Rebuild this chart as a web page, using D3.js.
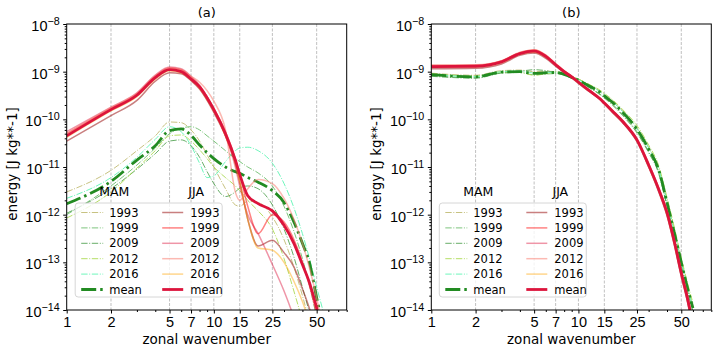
<!DOCTYPE html>
<html>
<head>
<meta charset="utf-8">
<script src="https://cdn.jsdelivr.net/npm/d3@7"></script>
<style>
  body { margin: 0; background: #fff; }
  svg { font-family: "DejaVu Sans", sans-serif; }
  .tick text { font-size: 14.5px; fill: #000; }
  .tick line { stroke: #000; }
  .domain { display: none; }
</style>
</head>
<body>
<div id="chart"></div>
<script>
// wavenumber grid shared by all curves
var wavenumber = [1, 2, 3, 4, 5, 6, 7, 8, 9, 10, 12, 14, 15, 17, 20, 25, 30, 35, 40, 45, 50, 55, 60];
var years = ["1993", "1999", "2009", "2012", "2016"];
var xTicks = [1, 2, 5, 7, 10, 15, 25, 50];
var xMinor = [3, 4, 6, 8, 9, 20, 30, 40, 60, 70, 80];
var yTicks = [-14, -13, -12, -11, -10, -9, -8];

// panel (a)
var aMam1993 = [3.0e-12, 8.5e-12, 2.2e-11, 4.5e-11, 8.8e-11, 8.5e-11, 6.0e-11, 3.5e-11, 1.8e-11, 1.0e-11, 3.5e-12, 1.6e-12, 1.5e-12, 1.9e-12, 1.8e-12, 9.0e-13, 3.0e-13, 8.0e-14, 2.0e-14, 5.0e-15, 1.0e-15, 3.0e-16, 1.0e-16];
var aMam1999 = [1.0e-12, 4.0e-12, 1.1e-11, 2.5e-11, 5.0e-11, 6.5e-11, 7.0e-11, 6.0e-11, 4.5e-11, 3.5e-11, 2.2e-11, 1.5e-11, 1.3e-11, 1.0e-11, 7.5e-12, 4.0e-12, 1.5e-12, 4.5e-13, 1.2e-13, 3.0e-14, 7.0e-15, 2.0e-15, 5.0e-16];
var aMam2009 = [1.07e-12, 3.5e-12, 9.0e-12, 1.9e-11, 3.5e-11, 3.7e-11, 2.8e-11, 1.6e-11, 8.0e-12, 4.5e-12, 2.4e-12, 3.0e-12, 3.6e-12, 4.0e-12, 3.5e-12, 1.6e-12, 5.0e-13, 1.3e-13, 3.0e-14, 8.0e-15, 2.0e-15, 5.0e-16, 1.0e-16];
var aMam2012 = [8.5e-13, 3.0e-12, 9.5e-12, 2.2e-11, 4.5e-11, 4.7e-11, 3.5e-11, 2.3e-11, 1.5e-11, 1.0e-11, 6.0e-12, 4.0e-12, 3.2e-12, 2.0e-12, 1.2e-12, 5.0e-13, 1.2e-13, 2.5e-14, 6.0e-15, 1.5e-15, 4.0e-16, 1.0e-16, 3.0e-17];
var aMam2016 = [2.2e-12, 6.0e-12, 1.6e-11, 3.8e-11, 7.0e-11, 5.5e-11, 2.8e-11, 1.2e-11, 6.0e-12, 6.5e-12, 1.3e-11, 2.2e-11, 2.5e-11, 2.6e-11, 2.2e-11, 1.2e-11, 4.5e-12, 1.4e-12, 4.0e-13, 1.1e-13, 3.0e-14, 1.0e-14, 3.0e-15];
var aMamMean = [1.7e-12, 5.0e-12, 1.4e-11, 2.8e-11, 5.8e-11, 6.3e-11, 4.6e-11, 2.9e-11, 2.0e-11, 1.5e-11, 1.0e-11, 8.0e-12, 7.4e-12, 6.0e-12, 4.8e-12, 3.2e-12, 1.8e-12, 7.0e-13, 2.5e-13, 9.0e-14, 1.8e-14, 5.0e-15, 1.5e-15];

var aJja1993 = [3.5e-11, 1.2e-10, 2.5e-10, 6.3e-10, 9.5e-10, 9.0e-10, 6.5e-10, 4.3e-10, 2.5e-10, 1.4e-10, 4.5e-11, 1.2e-11, 5.0e-12, 8.0e-13, 2.2e-13, 2.9e-13, 1.6e-13, 8.0e-14, 2.8e-14, 1.0e-14, 3.0e-15, 1.0e-15, 3.0e-16];
var aJja1999 = [5.0e-11, 1.7e-10, 3.4e-10, 8.0e-10, 1.2e-9, 1.1e-9, 7.5e-10, 5.0e-10, 3.0e-10, 1.7e-10, 5.5e-11, 1.5e-11, 7.0e-12, 1.5e-12, 4.0e-13, 1.0e-12, 7.0e-13, 3.0e-13, 1.0e-13, 3.0e-14, 8.0e-15, 2.0e-15, 5.0e-16];
var aJja2009 = [5.5e-11, 1.8e-10, 3.6e-10, 8.5e-10, 1.25e-9, 1.15e-9, 8.0e-10, 5.2e-10, 3.0e-10, 1.6e-10, 4.5e-11, 1.0e-11, 4.0e-12, 1.0e-12, 4.0e-13, 9.0e-14, 2.5e-14, 7.0e-15, 2.0e-15, 5.0e-16, 1.0e-16, 3.0e-17, 1.0e-17];
var aJja2012 = [5.0e-11, 1.75e-10, 3.5e-10, 8.2e-10, 1.2e-9, 1.1e-9, 8.0e-10, 6.0e-10, 4.0e-10, 2.4e-10, 6.0e-11, 3.0e-12, 2.0e-12, 3.5e-12, 5.5e-12, 4.5e-12, 2.2e-12, 8.0e-13, 2.5e-13, 7.0e-14, 1.8e-14, 4.0e-15, 1.0e-15];
var aJja2016 = [4.2e-11, 1.5e-10, 3.0e-10, 7.0e-10, 1.05e-9, 9.5e-10, 6.8e-10, 4.5e-10, 2.6e-10, 1.5e-10, 4.5e-11, 1.2e-11, 5.0e-12, 8.0e-13, 2.0e-13, 1.8e-13, 1.0e-13, 4.0e-14, 1.5e-14, 5.0e-15, 1.5e-15, 5.0e-16, 1.5e-16];
var aJjaMean = [4.5e-11, 1.6e-10, 3.2e-10, 7.5e-10, 1.1e-9, 1.0e-9, 7.0e-10, 4.8e-10, 2.8e-10, 1.6e-10, 5.0e-11, 1.4e-11, 7.0e-12, 2.5e-12, 1.7e-12, 1.2e-12, 6.0e-13, 2.5e-13, 9.0e-14, 3.5e-14, 1.1e-14, 3.0e-15, 8.0e-16];

// panel (b)
var bMam1993 = [9.3e-10, 8.4e-10, 1.05e-9, 1.08e-9, 1.0e-9, 1.02e-9, 1.0e-9, 9.2e-10, 8.0e-10, 7.0e-10, 5.2e-10, 3.9e-10, 3.3e-10, 2.4e-10, 1.5e-10, 6.6e-11, 2.6e-11, 9.8e-12, 2.0e-12, 4.5e-13, 1.1e-13, 3.3e-14, 1.2e-14];
var bMam1999 = [8.3e-10, 7.5e-10, 9.3e-10, 9.6e-10, 8.6e-10, 8.9e-10, 9.1e-10, 8.4e-10, 7.3e-10, 6.3e-10, 4.6e-10, 3.4e-10, 2.9e-10, 2.1e-10, 1.25e-10, 5.5e-11, 2.1e-11, 8.0e-12, 1.6e-12, 3.5e-13, 9.0e-14, 2.6e-14, 9.5e-15];
var bMam2009 = [8.0e-10, 7.3e-10, 9.5e-10, 1.02e-9, 1.1e-9, 1.05e-9, 9.5e-10, 8.5e-10, 7.3e-10, 6.2e-10, 4.5e-10, 3.3e-10, 2.8e-10, 2.0e-10, 1.2e-10, 5.2e-11, 2.0e-11, 7.5e-12, 1.5e-12, 3.3e-13, 8.5e-14, 2.5e-14, 9.0e-15];
var bMam2012 = [9.0e-10, 8.1e-10, 9.9e-10, 9.7e-10, 8.4e-10, 9.0e-10, 9.8e-10, 9.1e-10, 8.0e-10, 7.0e-10, 5.3e-10, 4.1e-10, 3.5e-10, 2.6e-10, 1.6e-10, 7.4e-11, 2.9e-11, 1.1e-11, 2.3e-12, 5.2e-13, 1.25e-13, 3.8e-14, 1.4e-14];
var bMam2016 = [8.8e-10, 7.9e-10, 1.0e-9, 1.03e-9, 9.4e-10, 9.6e-10, 9.7e-10, 9.0e-10, 7.8e-10, 6.8e-10, 5.0e-10, 3.8e-10, 3.2e-10, 2.35e-10, 1.45e-10, 6.4e-11, 2.5e-11, 9.4e-12, 1.9e-12, 4.2e-13, 1.05e-13, 3.1e-14, 1.15e-14];
var bMamMean = [8.7e-10, 7.8e-10, 9.8e-10, 1.0e-9, 9.2e-10, 9.5e-10, 9.6e-10, 8.8e-10, 7.6e-10, 6.6e-10, 4.9e-10, 3.7e-10, 3.1e-10, 2.3e-10, 1.4e-10, 6.2e-11, 2.4e-11, 9.0e-12, 1.8e-12, 4.0e-13, 1.0e-13, 3.0e-14, 1.1e-14];

var bJja1993 = [1.15e-9, 1.18e-9, 1.45e-9, 2.2e-9, 2.45e-9, 1.9e-9, 1.3e-9, 9.5e-10, 7.4e-10, 5.7e-10, 3.7e-10, 2.6e-10, 2.1e-10, 1.4e-10, 8.5e-11, 3.4e-11, 1.0e-11, 3.1e-12, 9.5e-13, 2.2e-13, 5.0e-14, 1.5e-14, 4.0e-15];
var bJja1999 = [1.35e-9, 1.36e-9, 1.68e-9, 2.5e-9, 2.85e-9, 2.2e-9, 1.45e-9, 1.03e-9, 8.0e-10, 6.1e-10, 4.0e-10, 2.8e-10, 2.25e-10, 1.55e-10, 9.3e-11, 3.8e-11, 1.15e-11, 3.7e-12, 1.2e-12, 2.8e-13, 6.5e-14, 2.0e-14, 5.5e-15];
var bJja2009 = [1.3e-9, 1.32e-9, 1.62e-9, 2.45e-9, 2.75e-9, 2.15e-9, 1.42e-9, 1.0e-9, 7.9e-10, 6.0e-10, 3.9e-10, 2.7e-10, 2.2e-10, 1.5e-10, 9.0e-11, 3.6e-11, 1.1e-11, 3.4e-12, 1.05e-12, 2.5e-13, 5.8e-14, 1.7e-14, 4.8e-15];
var bJja2012 = [1.38e-9, 1.4e-9, 1.7e-9, 2.55e-9, 2.9e-9, 2.25e-9, 1.48e-9, 1.05e-9, 8.1e-10, 6.2e-10, 4.0e-10, 2.8e-10, 2.3e-10, 1.55e-10, 9.4e-11, 3.9e-11, 1.2e-11, 3.8e-12, 1.2e-12, 2.9e-13, 6.8e-14, 2.1e-14, 6.0e-15];
var bJja2016 = [1.25e-9, 1.27e-9, 1.55e-9, 2.35e-9, 2.6e-9, 2.05e-9, 1.38e-9, 9.8e-10, 7.6e-10, 5.9e-10, 3.8e-10, 2.65e-10, 2.15e-10, 1.45e-10, 8.8e-11, 3.6e-11, 1.05e-11, 3.3e-12, 1.0e-12, 2.4e-13, 5.6e-14, 1.7e-14, 4.6e-15];
var bJjaMean = [1.28e-9, 1.3e-9, 1.6e-9, 2.4e-9, 2.7e-9, 2.1e-9, 1.4e-9, 1.0e-9, 7.8e-10, 6.0e-10, 3.9e-10, 2.7e-10, 2.2e-10, 1.5e-10, 9.0e-11, 3.7e-11, 1.1e-11, 3.5e-12, 1.1e-12, 2.6e-13, 6.0e-14, 1.8e-14, 5.0e-15];

// styles
var mamColors = ["#bdb76b", "#66bb66", "#4ea04e", "#a8d84a", "#55f5b0"];
var jjaColors = ["#a52a2a", "#ff3030", "#dc143c", "#fa8072", "#ffa500"];
var jjaOpacity = [0.6, 0.6, 0.45, 0.55, 0.45];

var W = 719, H = 354;
var svg = d3.select("#chart").append("svg").attr("width", W).attr("height", H);

function drawPanel(left, title, mam, mamMean, jja, jjaMean, legendX) {
    var top = 24, width = 280, height = 286;
    var x = d3.scaleLog().domain([1, 80]).range([0, width]);
    var y = d3.scaleLog().domain([1e-14, 1e-8]).range([height, 0]);

    var g = svg.append("g").attr("transform", "translate(" + left + "," + top + ")");
    var clipId = "clip" + title.replace(/\W/g, "");
    g.append("clipPath").attr("id", clipId)
      .append("rect").attr("width", width).attr("height", height);

    // vertical dashed grid
    g.selectAll(".grid").data(xTicks.filter(function(d) { return d > 1; }))
      .enter().append("line")
        .attr("x1", function(d) { return x(d); }).attr("x2", function(d) { return x(d); })
        .attr("y1", 0).attr("y2", height)
        .attr("stroke", "#b0b0b0").attr("stroke-width", 0.8)
        .attr("stroke-dasharray", "3,1.5");

    var line = d3.line()
        .x(function(d) { return x(d[0]); })
        .y(function(d) { return y(d[1]); })
        .curve(d3.curveMonotoneX);
    function pts(vals) { return wavenumber.map(function(k, i) { return [k, vals[i]]; }); }

    var plot = g.append("g").attr("clip-path", "url(#" + clipId + ")");
    mam.forEach(function(s, i) {
        plot.append("path").attr("d", line(pts(s)))
          .attr("fill", "none").attr("stroke", mamColors[i]).attr("stroke-opacity", 0.85)
          .attr("stroke-width", 1).attr("stroke-dasharray", "6.4,1.6,1,1.6");
    });
    plot.append("path").attr("d", line(pts(mamMean)))
      .attr("fill", "none").attr("stroke", "#228b22").attr("stroke-width", 2.8)
      .attr("stroke-dasharray", "15,4,2.5,4");
    jja.forEach(function(s, i) {
        plot.append("path").attr("d", line(pts(s)))
          .attr("fill", "none").attr("stroke", jjaColors[i]).attr("stroke-opacity", jjaOpacity[i])
          .attr("stroke-width", 1.5);
    });
    plot.append("path").attr("d", line(pts(jjaMean)))
      .attr("fill", "none").attr("stroke", "#dc143c").attr("stroke-width", 2.8);

    // axes
    g.append("g").attr("transform", "translate(0," + height + ")")
      .call(d3.axisBottom(x).tickValues(xTicks).tickFormat(d3.format("d")).tickSize(3.5).tickPadding(3));
    g.append("g").attr("transform", "translate(0," + height + ")")
      .call(d3.axisBottom(x).tickValues(xMinor).tickFormat("").tickSize(2));

    var yMinor = [];
    yTicks.slice(0, -1).forEach(function(e) {
        for (var m = 2; m < 10; m++) yMinor.push(m * Math.pow(10, e));
    });
    var yAxis = g.append("g")
      .call(d3.axisLeft(y).tickValues(yTicks.map(function(e) { return Math.pow(10, e); }))
        .tickFormat("").tickSize(3.5));
    yAxis.selectAll(".tick").each(function(d) {
        var e = Math.round(Math.log10(d));
        var t = d3.select(this).append("text")
          .attr("x", -7).attr("dy", "0.45em").attr("text-anchor", "end");
        t.append("tspan").text("10");
        t.append("tspan").attr("dy", "-0.55em").attr("font-size", "0.74em").text("\u2212" + (-e));
    });
    g.append("g").call(d3.axisLeft(y).tickValues(yMinor).tickFormat("").tickSize(2));

    g.append("rect").attr("width", width).attr("height", height)
      .attr("fill", "none").attr("stroke", "#000").attr("stroke-width", 1);

    // title and labels
    g.append("text").attr("x", width / 2).attr("y", -7).attr("text-anchor", "middle")
      .attr("font-size", 13).text(title);
    g.append("text").attr("x", width / 2).attr("y", height + 34).attr("text-anchor", "middle")
      .attr("font-size", 13.5).text("zonal wavenumber");
    g.append("text").attr("transform", "translate(" + (-50) + "," + (height / 2 - 3) + ") rotate(-90)")
      .attr("text-anchor", "middle").attr("font-size", 13.5).text("energy [J kg**-1]");

    // legend
    var lg = g.append("g").attr("transform", "translate(" + legendX + ",179)");
    lg.append("rect").attr("width", 147).attr("height", 94).attr("rx", 3)
      .attr("fill", "#fff").attr("fill-opacity", 0.8).attr("stroke", "#cccccc").attr("stroke-width", 0.8);
    lg.append("text").attr("x", 39).attr("y", -7).attr("text-anchor", "middle").attr("font-size", 12.5).text("MAM");
    lg.append("text").attr("x", 121).attr("y", -7).attr("text-anchor", "middle").attr("font-size", 12.5).text("JJA");
    var labels = years.concat(["mean"]);
    labels.forEach(function(lab, i) {
        var ry = 9.5 + i * 15.4;
        var mean = lab === "mean";
        lg.append("line").attr("x1", 6).attr("x2", 28).attr("y1", ry).attr("y2", ry)
          .attr("stroke", mean ? "#228b22" : mamColors[i])
          .attr("stroke-opacity", mean ? 1 : 0.85)
          .attr("stroke-width", mean ? 2.8 : 1)
          .attr("stroke-dasharray", mean ? "15,4,2.5,4" : "6.4,1.6,1,1.6");
        lg.append("text").attr("x", 34).attr("y", ry).attr("dy", "0.36em").attr("font-size", 11.5).text(lab);
        lg.append("line").attr("x1", 87).attr("x2", 108).attr("y1", ry).attr("y2", ry)
          .attr("stroke", mean ? "#dc143c" : jjaColors[i])
          .attr("stroke-opacity", mean ? 1 : jjaOpacity[i])
          .attr("stroke-width", mean ? 2.8 : 1.5);
        lg.append("text").attr("x", 115).attr("y", ry).attr("dy", "0.36em").attr("font-size", 11.5).text(lab);
    });
}

drawPanel(66.7, "(a)",
    [aMam1993, aMam1999, aMam2009, aMam2012, aMam2016], aMamMean,
    [aJja1993, aJja1999, aJja2009, aJja2012, aJja2016], aJjaMean, 8.5);
drawPanel(431.3, "(b)",
    [bMam1993, bMam1999, bMam2009, bMam2012, bMam2016], bMamMean,
    [bJja1993, bJja1999, bJja2009, bJja2012, bJja2016], bJjaMean, 8);
</script>
</body>
</html>
